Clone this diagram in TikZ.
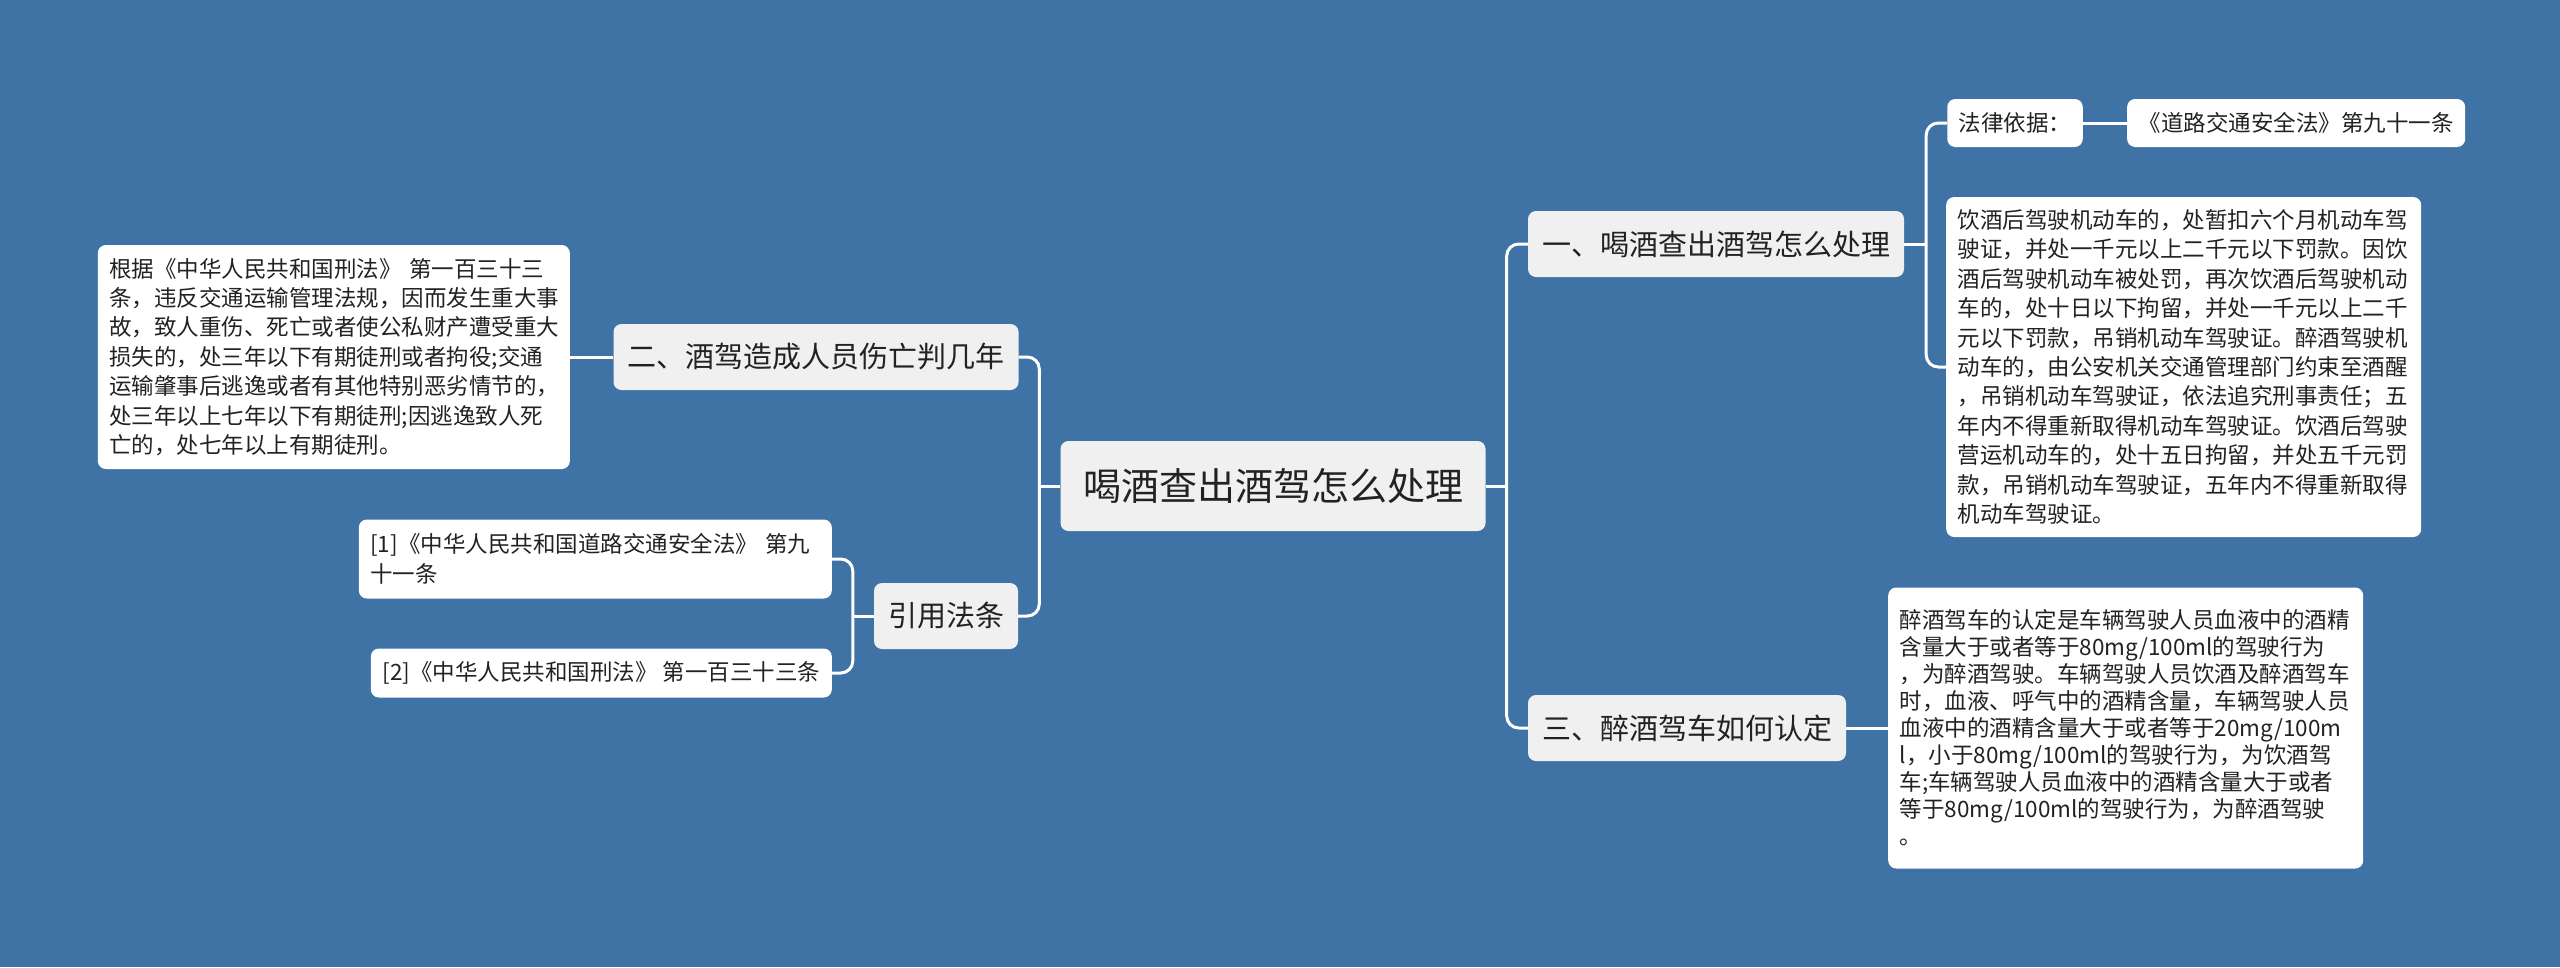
\documentclass[tikz,border=0pt]{standalone}
\usepackage{fontspec}
\setmainfont{Noto Sans CJK SC}
\usetikzlibrary{positioning}
\definecolor{bgblue}{HTML}{3F72A5}
\definecolor{topicgrey}{HTML}{F0F0F0}
\definecolor{inkgrey}{HTML}{222222}

\begin{document}
\begin{tikzpicture}[x=1pt,y=-1pt,
  box/.style={rounded corners=8pt,inner sep=0pt,text=inkgrey,align=center},
  rootbox/.style={box,fill=topicgrey,minimum width=425pt,minimum height=90pt,
                  font=\fontsize{38}{46}\selectfont},
  topic/.style={box,fill=topicgrey,minimum height=66pt,inner xsep=14pt,
                font=\fontsize{29}{35}\selectfont},
  leaf/.style={box,fill=white,inner xsep=11.5pt,align=left,
               font=\fontsize{22.5}{29.4}\selectfont},
  link/.style={draw=white,line width=3pt,rounded corners=12pt}]

\fill[bgblue] (0,0) rectangle (2560,967);

% centre and main topics
\node[rootbox] (root) at (1273,486) {喝酒查出酒驾怎么处理};
\node[topic] (drink) at (1716,244) {一、喝酒查出酒驾怎么处理};
\node[topic] (judge) at (1687,728) {三、醉酒驾车如何认定};
\node[topic] (harm) at (816,357) {二、酒驾造成人员伤亡判几年};
\node[topic] (cite) at (946,616) {引用法条};

% right side details
\node[leaf,minimum height=48pt] (basis) at (2015,123) {法律依据：};
\node[leaf,minimum height=48pt,right=44pt of basis] (law) {《道路交通安全法》第九十一条};
\node[leaf,text width=452pt,minimum height=340pt,anchor=west] (penalty) at (1946,367)
  {饮酒后驾驶机动车的，处暂扣六个月机动车驾\\
   驶证，并处一千元以上二千元以下罚款。因饮\\
   酒后驾驶机动车被处罚，再次饮酒后驾驶机动\\
   车的，处十日以下拘留，并处一千元以上二千\\
   元以下罚款，吊销机动车驾驶证。醉酒驾驶机\\
   动车的，由公安机关交通管理部门约束至酒醒\\
   ，吊销机动车驾驶证，依法追究刑事责任；五\\
   年内不得重新取得机动车驾驶证。饮酒后驾驶\\
   营运机动车的，处十五日拘留，并处五千元罚\\
   款，吊销机动车驾驶证，五年内不得重新取得\\
   机动车驾驶证。};
\node[leaf,text width=452pt,minimum height=281pt,anchor=west,
      font=\fontsize{22.5}{27}\selectfont] (drunk) at (1888,728)
  {醉酒驾车的认定是车辆驾驶人员血液中的酒精\\
   含量大于或者等于80mg/100ml的驾驶行为\\
   ，为醉酒驾驶。车辆驾驶人员饮酒及醉酒驾车\\
   时，血液、呼气中的酒精含量，车辆驾驶人员\\
   血液中的酒精含量大于或者等于20mg/100m\\
   l，小于80mg/100ml的驾驶行为，为饮酒驾\\
   车;车辆驾驶人员血液中的酒精含量大于或者\\
   等于80mg/100ml的驾驶行为，为醉酒驾驶\\
   。};

% left side details
\node[leaf,text width=449pt,minimum height=224pt,anchor=east] (crime) at (570,357)
  {根据《中华人民共和国刑法》 第一百三十三\\
   条，违反交通运输管理法规，因而发生重大事\\
   故，致人重伤、死亡或者使公私财产遭受重大\\
   损失的，处三年以下有期徒刑或者拘役;交通\\
   运输肇事后逃逸或者有其他特别恶劣情节的，\\
   处三年以上七年以下有期徒刑;因逃逸致人死\\
   亡的，处七年以上有期徒刑。};
\node[leaf,text width=450pt,minimum height=79pt,anchor=east] (ref1) at (832,559)
  {[1]《中华人民共和国道路交通安全法》 第九\\十一条};
\node[leaf,minimum width=461pt,minimum height=49pt,anchor=east,align=center] (ref2) at (832,673)
  {[2]《中华人民共和国刑法》 第一百三十三条};

% connectors
\coordinate[left=21pt of root.west] (jl);
\coordinate[right=21pt of root.east] (jr);
\coordinate[right=22pt of drink.east] (jd);
\coordinate[left=21pt of cite.west] (jc);

\draw[link] (root.west) -- (jl);
\draw[link] (jl) |- (harm.east);
\draw[link] (jl) |- (cite.east);
\draw[link] (root.east) -- (jr);
\draw[link] (jr) |- (drink.west);
\draw[link] (jr) |- (judge.west);

\draw[link] (drink.east) -- (jd);
\draw[link] (jd) |- (basis.west);
\draw[link] (jd) |- (penalty.west);
\draw[link] (basis) -- (law);
\draw[link] (judge) -- (drunk);

\draw[link] (harm) -- (crime);
\draw[link] (cite.west) -- (jc);
\draw[link] (jc) |- (ref1.east);
\draw[link] (jc) |- (ref2.east);
\end{tikzpicture}
\end{document}
